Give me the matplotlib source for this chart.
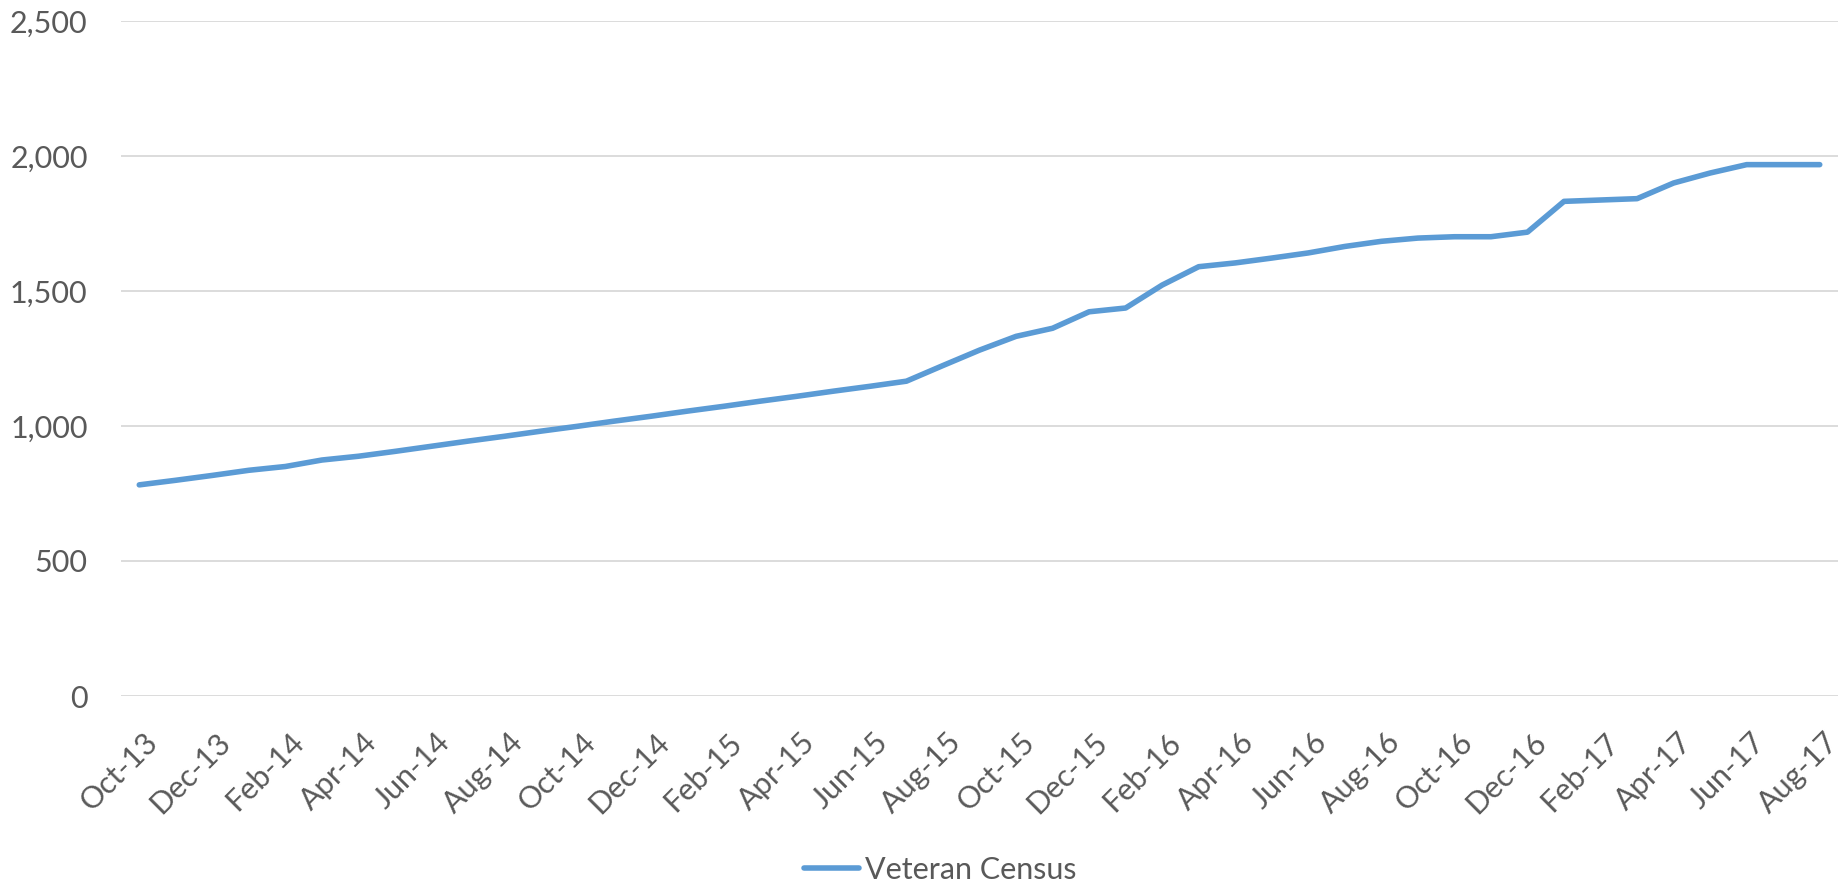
import matplotlib
matplotlib.use("Agg")
import matplotlib.pyplot as plt
from matplotlib.ticker import FuncFormatter
from matplotlib.transforms import ScaledTranslation

months = ["Oct-13", "Nov-13", "Dec-13", "Jan-14", "Feb-14", "Mar-14", "Apr-14", "May-14",
          "Jun-14", "Jul-14", "Aug-14", "Sep-14", "Oct-14", "Nov-14", "Dec-14", "Jan-15",
          "Feb-15", "Mar-15", "Apr-15", "May-15", "Jun-15", "Jul-15", "Aug-15", "Sep-15",
          "Oct-15", "Nov-15", "Dec-15", "Jan-16", "Feb-16", "Mar-16", "Apr-16", "May-16",
          "Jun-16", "Jul-16", "Aug-16", "Sep-16", "Oct-16", "Nov-16", "Dec-16", "Jan-17",
          "Feb-17", "Mar-17", "Apr-17", "May-17", "Jun-17", "Jul-17", "Aug-17"]

veteran_census = [782, 799, 817, 836, 850, 874, 888, 906, 925, 944, 962, 981, 999, 1018,
                  1036, 1055, 1073, 1092, 1110, 1129, 1147, 1166, 1224, 1281, 1332, 1362,
                  1423, 1437, 1522, 1590, 1604, 1622, 1641, 1665, 1684, 1696, 1701, 1701,
                  1718, 1832, 1837, 1842, 1900, 1937, 1968, 1968, 1968]

yticks = [0, 500, 1000, 1500, 2000, 2500]

plt.rcParams['font.family'] = ['Lato', 'DejaVu Sans']
text_color = "#595959"
line_color = "#5B9BD5"
grid_color = "#D9D9D9"

fig = plt.figure(figsize=(18.44, 8.85), dpi=100)
ax = fig.add_axes([121 / 1844, 1 - 696 / 885, (1838 - 121) / 1844, (696 - 21) / 885])

x = list(range(len(months)))
ax.plot(x, veteran_census, color=line_color, lw=4, solid_capstyle='round',
        solid_joinstyle='round', label="Veteran Census", zorder=3)

ax.set_xlim(-0.5, len(months) - 0.5)
ax.set_ylim(0, 2500)
ax.set_yticks(yticks)
ax.yaxis.set_major_formatter(FuncFormatter(lambda v, p: f"{int(v):,}"))
ax.grid(axis='y', color=grid_color, lw=1.3, zorder=0)
ax.set_axisbelow(True)
for s in ax.spines.values():
    s.set_visible(False)

ax.set_xticks(x[::2])
ax.set_xticklabels(months[::2], rotation=45, ha='right', va='center',
                   rotation_mode='anchor')
ax.tick_params(axis='x', length=0, pad=30, labelsize=22, labelcolor=text_color)
ax.tick_params(axis='y', length=0, pad=24, labelsize=22, labelcolor=text_color)
shift = ScaledTranslation(14 / 100, 0, fig.dpi_scale_trans)
for lab in ax.get_xticklabels():
    lab.set_transform(lab.get_transform() + shift)

leg = fig.legend(loc='center', bbox_to_anchor=(0.51, 1 - 870 / 885), frameon=False,
                 fontsize=22, handlelength=1.8, handletextpad=0.2, labelcolor=text_color)

fig.savefig("out.png", dpi=100)
